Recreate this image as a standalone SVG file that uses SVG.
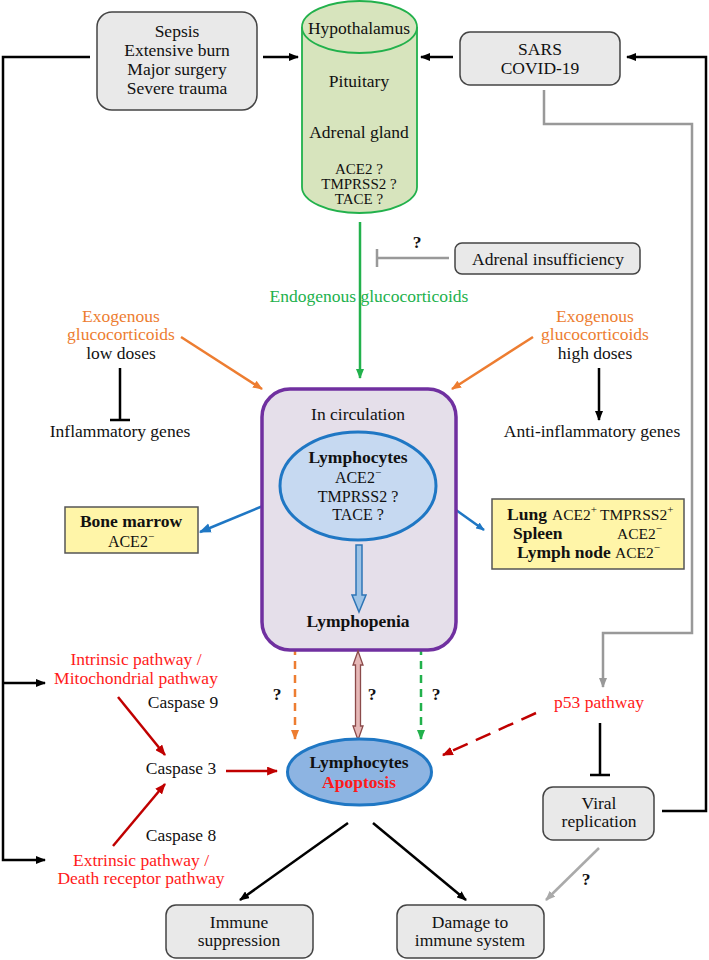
<svg xmlns="http://www.w3.org/2000/svg" width="709" height="960" viewBox="0 0 709 960" font-family="'Liberation Serif', 'DejaVu Serif', serif">
<style>
text{font-family:'Liberation Serif','DejaVu Serif',serif;font-size:17.5px;fill:#111;}
.c{text-anchor:middle;}
.b{font-weight:bold;}
.sm{font-size:15px;}
.m{font-size:16px;}
.m2{font-size:15.5px;}
.sup{font-size:11px;}
.red{fill:#ff1a1a;}
.org{fill:#ed7d31;}
.grn{fill:#22b14c;}
.box{fill:#e9e9e9;stroke:#444;stroke-width:1.5;}
.ybox{fill:#fff5a8;stroke:#555;stroke-width:1.5;}
.ln{fill:none;stroke-width:2.5;}
.k{stroke:#000;}
.g{stroke:#999;}
.lg{stroke:#aaa;}
.gr{stroke:#22b14c;}
.o{stroke:#ed7d31;}
.r{stroke:#c00000;}
.bl{stroke:#1f77c4;}
</style>
<defs>
<marker id="ak" viewBox="0 0 10 8" refX="9" refY="4" markerWidth="10" markerHeight="8" markerUnits="userSpaceOnUse" orient="auto"><path d="M0,0L10,4L0,8z" fill="#000"/></marker>
<marker id="ag" viewBox="0 0 10 8" refX="9" refY="4" markerWidth="10" markerHeight="8" markerUnits="userSpaceOnUse" orient="auto"><path d="M0,0L10,4L0,8z" fill="#999"/></marker>
<marker id="alg" viewBox="0 0 10 8" refX="9" refY="4" markerWidth="10" markerHeight="8" markerUnits="userSpaceOnUse" orient="auto"><path d="M0,0L10,4L0,8z" fill="#aaa"/></marker>
<marker id="agr" viewBox="0 0 10 8" refX="9" refY="4" markerWidth="10" markerHeight="8" markerUnits="userSpaceOnUse" orient="auto"><path d="M0,0L10,4L0,8z" fill="#22b14c"/></marker>
<marker id="ao" viewBox="0 0 10 8" refX="9" refY="4" markerWidth="10" markerHeight="8" markerUnits="userSpaceOnUse" orient="auto"><path d="M0,0L10,4L0,8z" fill="#ed7d31"/></marker>
<marker id="ar" viewBox="0 0 10 8" refX="9" refY="4" markerWidth="11" markerHeight="9" markerUnits="userSpaceOnUse" orient="auto"><path d="M0,0L10,4L0,8z" fill="#c00000"/></marker>
<marker id="ab" viewBox="0 0 10 8" refX="9" refY="4" markerWidth="12" markerHeight="10" markerUnits="userSpaceOnUse" orient="auto"><path d="M0,0L10,4L0,8z" fill="#1f77c4"/></marker>
<marker id="abs" viewBox="0 0 10 8" refX="9" refY="4" markerWidth="9" markerHeight="7" markerUnits="userSpaceOnUse" orient="auto"><path d="M0,0L10,4L0,8z" fill="#1f77c4"/></marker>
</defs>

<g id="connectors">
<path class="ln k" d="M90,57H3V860H45" marker-end="url(#ak)"/>
<path class="ln k" d="M3,683H45" marker-end="url(#ak)"/>
<path class="ln k" d="M263,57H298" marker-end="url(#ak)"/>
<path class="ln k" d="M662,811H706V57H627" marker-end="url(#ak)"/>
<path class="ln k" d="M453,57H421" marker-end="url(#ak)"/>
<path class="ln g" d="M544,90V124H692V633H603V687" marker-end="url(#ag)"/>
<path class="ln gr" d="M360,222V378" marker-end="url(#agr)"/>
<path class="ln g" d="M449,258H377M377,249V267"/>
<path class="ln o" d="M181,337L262,389" marker-end="url(#ao)"/>
<path class="ln o" d="M533,337L452,389" marker-end="url(#ao)"/>
<path class="ln k" d="M120,368V420M110,420H130"/>
<path class="ln k" d="M599,368V420" marker-end="url(#ak)"/>
<path class="ln bl" stroke-width="3.5" d="M275,501L200,532" marker-end="url(#ab)"/>
<path class="ln bl" stroke-width="1.5" d="M442,500L484,530" marker-end="url(#abs)"/>
<path class="ln o" stroke-dasharray="8 6" d="M295,563V739" marker-end="url(#ao)"/>
<path class="ln gr" stroke-dasharray="8 6" d="M421,563V739" marker-end="url(#agr)"/>
<path class="ln r" d="M118,697L165,755" marker-end="url(#ar)"/>
<path class="ln r" d="M113,846L165,784" marker-end="url(#ar)"/>
<path class="ln r" d="M226,771H277" marker-end="url(#ar)"/>
<path class="ln r" stroke-width="3" stroke-dasharray="16 9" d="M536,713L443,755" marker-end="url(#ar)"/>
<path class="ln k" d="M600,723V775M590,775H610"/>
<path class="ln k" d="M348,823L240,900" marker-end="url(#ak)"/>
<path class="ln k" d="M373,823L466,900" marker-end="url(#ak)"/>
<path class="ln lg" d="M599,848L546,900" marker-end="url(#alg)"/>
</g>

<g id="sepsis">
<rect class="box" x="97" y="12" width="160" height="98" rx="15"/>
<text class="c" x="177" y="37">Sepsis</text>
<text class="c" x="177" y="56">Extensive burn</text>
<text class="c" x="177" y="75">Major surgery</text>
<text class="c" x="177" y="94">Severe trauma</text>
</g>

<g id="hpa">
<path d="M302,27V187A57.5,26 0 0 0 417,187V27" fill="#d7e4bd" stroke="#22b14c" stroke-width="1.8"/>
<ellipse cx="359.5" cy="27" rx="57.5" ry="26" fill="#d7e4bd" stroke="#22b14c" stroke-width="1.8"/>
<text class="c" x="359" y="34">Hypothalamus</text>
<text class="c" x="359" y="87">Pituitary</text>
<text class="c" x="359" y="138">Adrenal gland</text>
<text class="c sm" x="359" y="174">ACE2 ?</text>
<text class="c sm" x="359" y="189">TMPRSS2 ?</text>
<text class="c sm" x="359" y="204">TACE ?</text>
</g>

<g id="sars">
<rect class="box" x="460" y="32" width="160" height="53" rx="10"/>
<text class="c" x="540" y="55">SARS</text>
<text class="c" x="540" y="74">COVID-19</text>
</g>

<g id="adrenal-insufficiency">
<rect class="box" x="455" y="243" width="185" height="31" rx="7"/>
<text class="c" x="548" y="265">Adrenal insufficiency</text>
<text class="c b" x="417" y="248">?</text>
</g>

<g id="endogenous">
<text class="c grn" x="369" y="302">Endogenous glucocorticoids</text>
</g>

<g id="exo-low">
<text class="c org" x="121" y="322">Exogenous</text>
<text class="c org" x="121" y="340">glucocorticoids</text>
<text class="c" x="121" y="359">low doses</text>
</g>
<g id="inflammatory">
<text class="c" x="120" y="437">Inflammatory genes</text>
</g>

<g id="exo-high">
<text class="c org" x="595" y="322">Exogenous</text>
<text class="c org" x="595" y="340">glucocorticoids</text>
<text class="c" x="595" y="359">high doses</text>
</g>
<g id="anti-inflammatory">
<text class="c" x="592" y="437">Anti-inflammatory genes</text>
</g>

<g id="circulation">
<rect x="262" y="389" width="194" height="261" rx="28" fill="#e5dfea" stroke="#7030a0" stroke-width="3.5"/>
<text class="c" x="358" y="420">In circulation</text>
</g>

<g id="lymphocytes">
<ellipse cx="358" cy="486" rx="78" ry="54" fill="#c6d9f1" stroke="#1f77c4" stroke-width="3"/>
<text class="c b" x="358" y="463">Lymphocytes</text>
<text class="c m" x="358" y="483">ACE2<tspan class="sup" dy="-7">−</tspan></text>
<text class="c m" x="358" y="502">TMPRSS2 ?</text>
<text class="c m" x="358" y="520">TACE ?</text>
</g>

<g id="lymphopenia">
<polygon points="356,545 362,545 362,595 366,595 359,612 352,595 356,595" fill="#9dc3e6" stroke="#2e75b6" stroke-width="1.5"/>
<text class="c b" x="358" y="627">Lymphopenia</text>
</g>

<g id="bone-marrow">
<rect class="ybox" x="65" y="507" width="133" height="46"/>
<text class="c b" x="131" y="527">Bone marrow</text>
<text class="c m" x="131" y="547">ACE2<tspan class="sup" dy="-7">−</tspan></text>
</g>

<g id="lung">
<rect class="ybox" x="492" y="499" width="192" height="70"/>
<text class="b" x="507" y="520">Lung</text>
<text class="m2" x="552" y="520">ACE2<tspan class="sup" dy="-7">+</tspan></text>
<text class="m2" x="600" y="520">TMPRSS2<tspan class="sup" dy="-7">+</tspan></text>
<text class="b" x="513" y="539">Spleen</text>
<text class="m2" x="617" y="539">ACE2<tspan class="sup" dy="-7">−</tspan></text>
<text class="b" x="517" y="558">Lymph node</text>
<text class="m2" x="615" y="558">ACE2<tspan class="sup" dy="-7">−</tspan></text>
</g>

<g id="link-question">
<polygon points="358,651 363,665 360.5,665 360.5,726 363,726 358,740 353,726 355.5,726 355.5,665 353,665" fill="#e6b8b7" stroke="#8b4a4a" stroke-width="1.3"/>
<text class="c b" x="277" y="700">?</text>
<text class="c b" x="372" y="700">?</text>
<text class="c b" x="436" y="700">?</text>
</g>

<g id="apoptosis">
<ellipse cx="359.5" cy="772" rx="72" ry="33" fill="#8db4e2" stroke="#1f77c4" stroke-width="3"/>
<text class="c b" x="359" y="768">Lymphocytes</text>
<text class="c b red" x="359" y="788">Apoptosis</text>
</g>

<g id="intrinsic">
<text class="c red" x="136" y="665">Intrinsic pathway /</text>
<text class="c red" x="136" y="684">Mitochondrial pathway</text>
</g>
<g id="caspase9"><text class="c" x="183" y="708">Caspase 9</text></g>
<g id="caspase3"><text class="c" x="181" y="774">Caspase 3</text></g>
<g id="caspase8"><text class="c" x="181" y="841">Caspase 8</text></g>
<g id="extrinsic">
<text class="c red" x="141" y="866">Extrinsic pathway /</text>
<text class="c red" x="141" y="884">Death receptor pathway</text>
</g>

<g id="p53">
<text class="c red" x="599" y="708">p53 pathway</text>
</g>

<g id="viral-replication">
<rect class="box" x="543" y="787" width="111" height="53" rx="10"/>
<text class="c" x="599" y="809">Viral</text>
<text class="c" x="599" y="827">replication</text>
<text class="c b" x="586" y="885">?</text>
</g>

<g id="immune-suppression">
<rect class="box" x="166" y="905" width="147" height="53" rx="10"/>
<text class="c" x="239" y="928">Immune</text>
<text class="c" x="239" y="946">suppression</text>
</g>

<g id="damage">
<rect class="box" x="397" y="905" width="147" height="53" rx="10"/>
<text class="c" x="470" y="928">Damage to</text>
<text class="c" x="470" y="946">immune system</text>
</g>
</svg>
